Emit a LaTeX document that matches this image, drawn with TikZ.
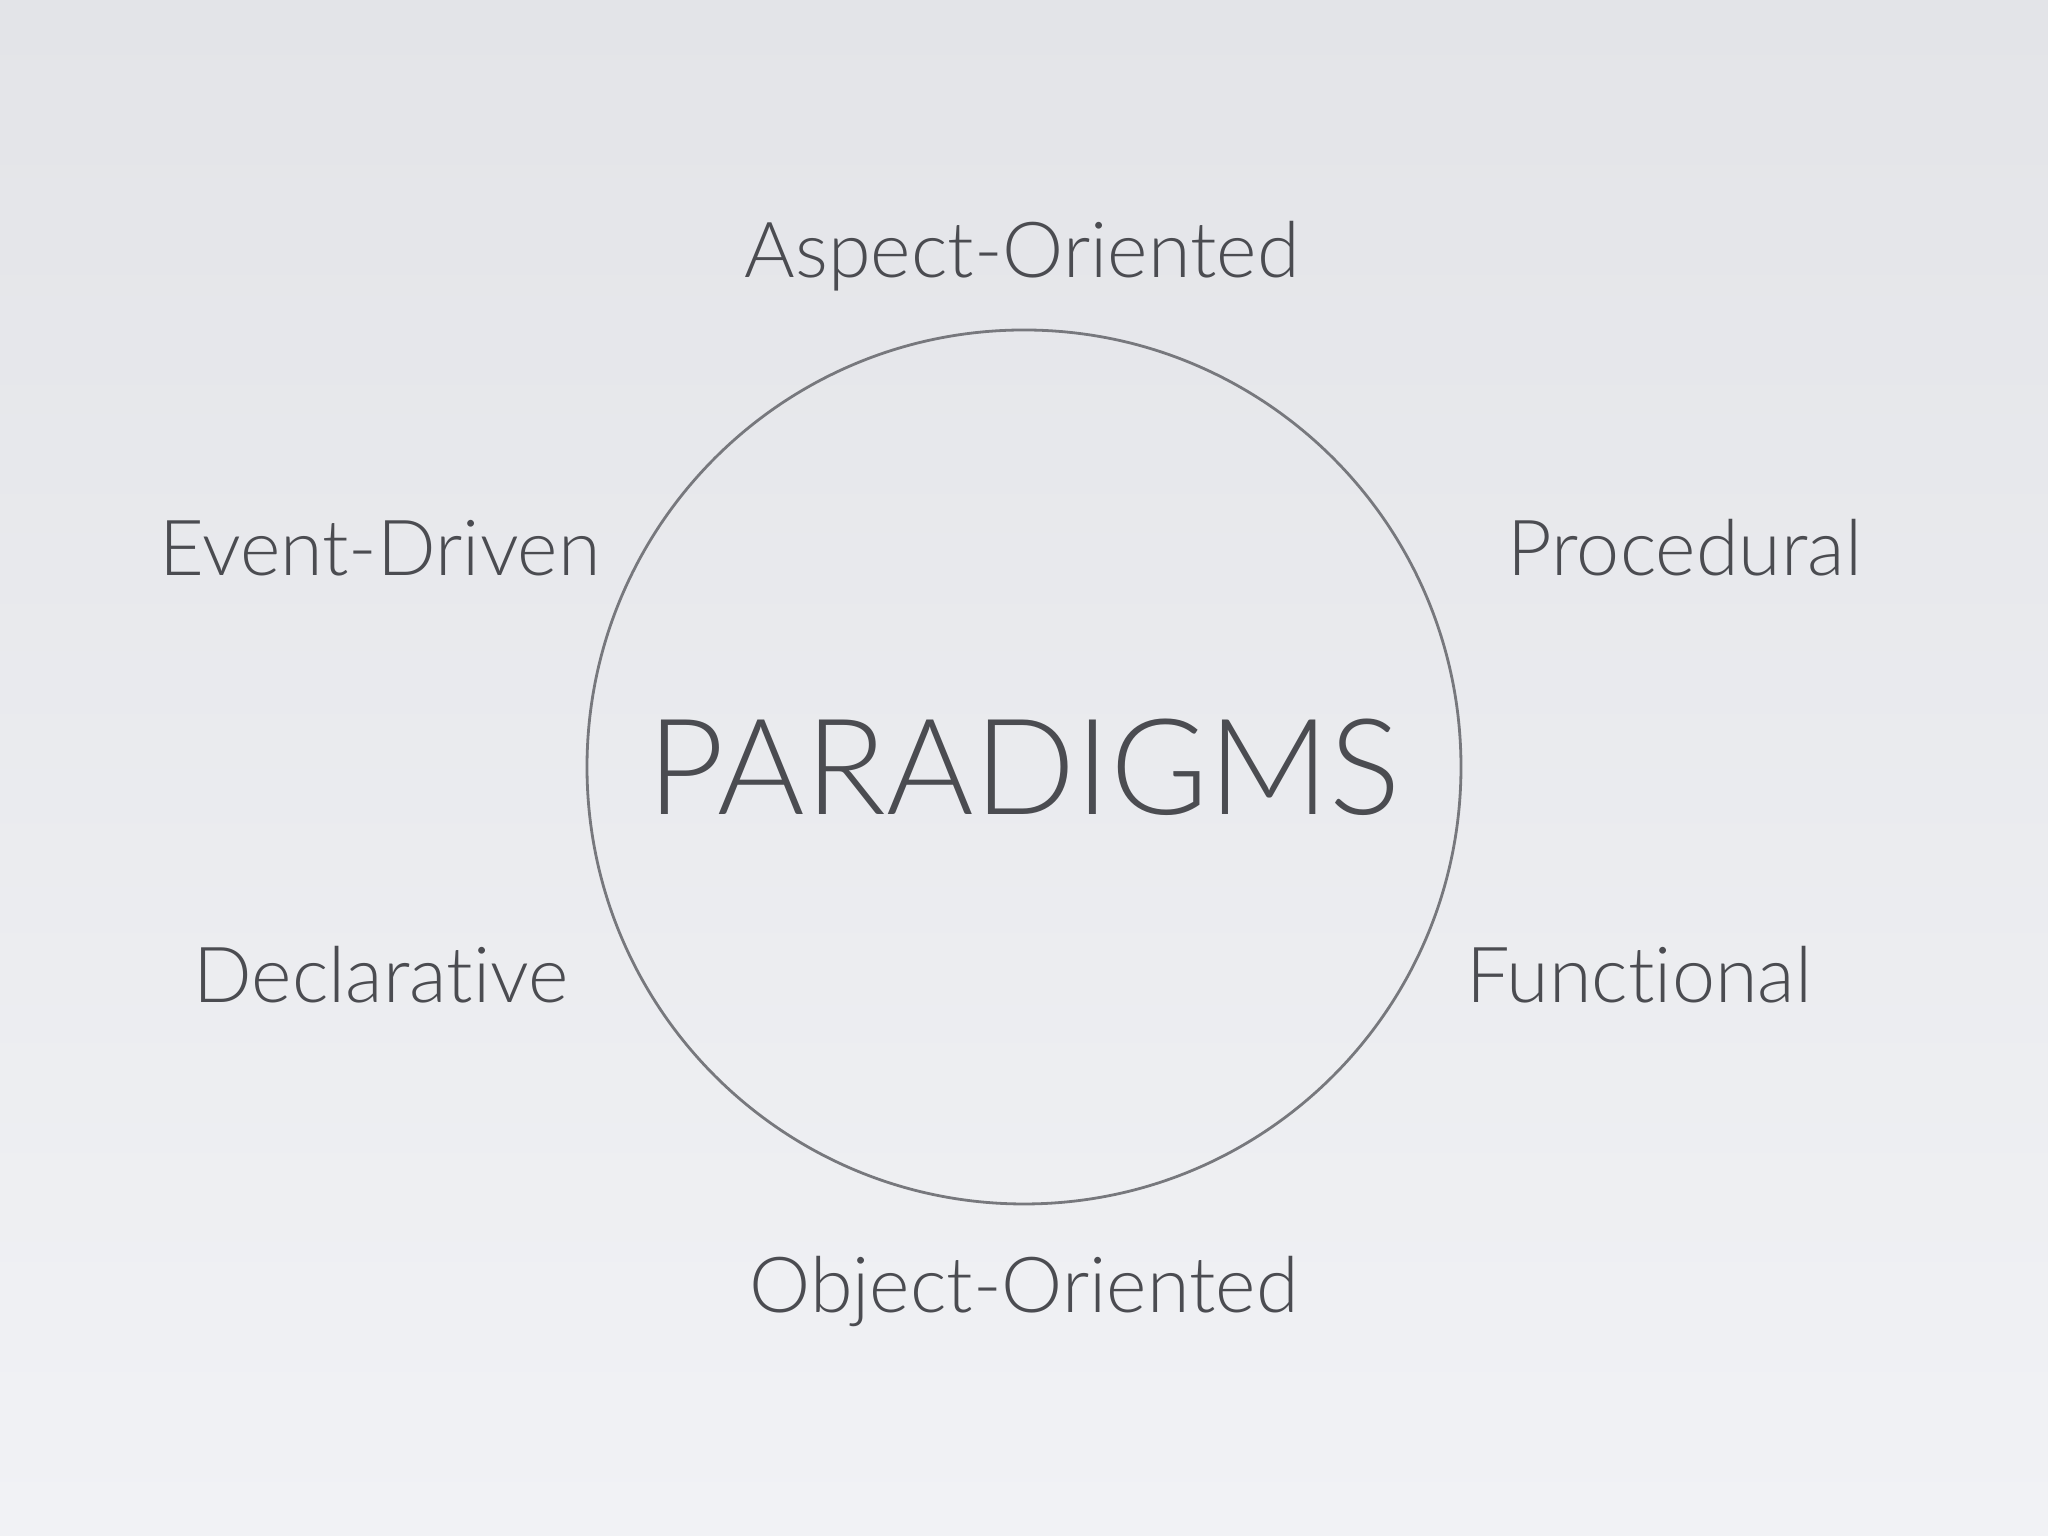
\documentclass[tikz,border=0pt]{standalone}
\usepackage{fontspec}
\setmainfont{Lato}[UprightFont={* Light}, Ligatures={NoCommon,NoRare}]
\definecolor{slidetop}{HTML}{E3E4E8}
\definecolor{slidebottom}{HTML}{F1F2F5}
\definecolor{labeltext}{HTML}{4B4C51}
\definecolor{ringline}{HTML}{77787D}
\tikzset{
  paradigm/.style={text=labeltext, font=\fontsize{22}{26}\selectfont, inner sep=0pt},
  ring/.style={circle, draw=ringline, line width=0.028cm, minimum size=8.74cm, inner sep=0pt,
    text=labeltext, font=\fontsize{38}{44}\selectfont}
}
\begin{document}
\begin{tikzpicture}
                    % Background of the slide
                    \shade [top color=slidetop, bottom color=slidebottom] (0.000000,0.000000) rectangle (20.480000,15.360000);%
                    \useasboundingbox (0.000000,0.000000) rectangle (20.480000,15.360000);%

                    % Drawing circle PARADIGMS
                    \node [ring] (paradigms) at (10.240000,7.690000) { PARADIGMS };%

                    % Marking label Aspect-Oriented
                    \node [paradigm] (aspect) at (10.220000,12.800000) { Aspect-Oriented };%

                    % Marking label Procedural
                    \node [paradigm] (procedural) at (16.850000,9.880000) { Procedural };%

                    % Marking label Functional
                    \node [paradigm] (functional) at (16.390000,5.610000) { Functional };%

                    % Marking label Object-Oriented
                    \node [paradigm] (object) at (10.240000,2.440000) { Object-Oriented };%

                    % Marking label Declarative
                    \node [paradigm] (declarative) at (3.810000,5.610000) { Declarative };%

                    % Marking label Event-Driven
                    \node [paradigm] (event) at (3.800000,9.880000) { Event-Driven };%
\end{tikzpicture}
\end{document}
